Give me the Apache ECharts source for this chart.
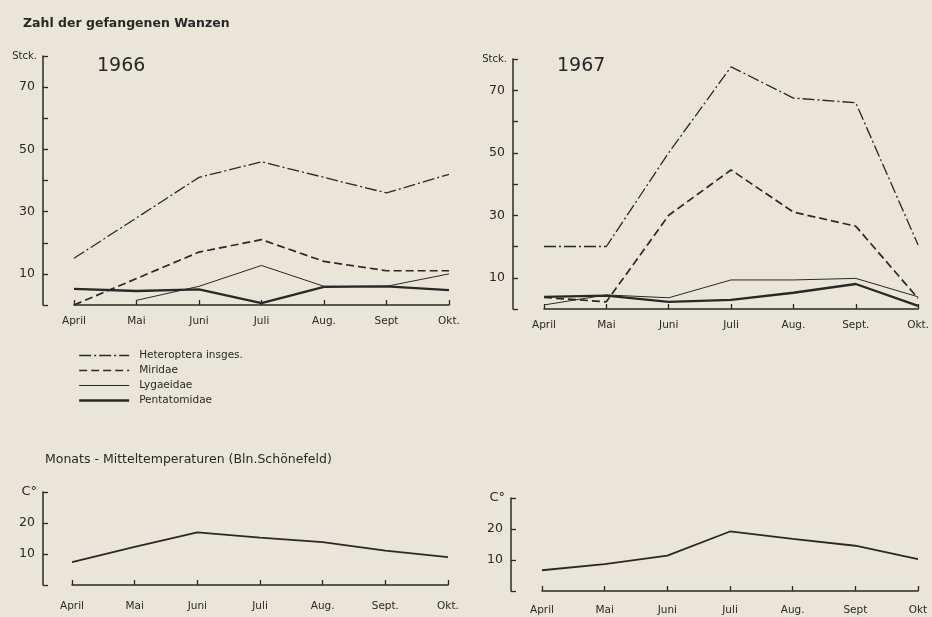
<!DOCTYPE html>
<html><head><meta charset="utf-8">
<script src="https://cdn.jsdelivr.net/npm/echarts@6/dist/echarts.min.js"></script>
<style>html,body{margin:0;padding:0;background:#e9e5d8;}#c{width:932px;height:617px;}</style>
</head><body><div id="c"></div>
<script>
// ---- data ----
const months1966 = ['April','Mai','Juni','Juli','Aug.','Sept','Okt.'];
const months1967 = ['April','Mai','Juni','Juli','Aug.','Sept.','Okt.'];
const monthsT1966 = ['April','Mai','Juni','Juli','Aug.','Sept.','Okt.'];
const monthsT1967 = ['April','Mai','Juni','Juli','Aug.','Sept','Okt'];

const hetero1966 = [15, 28, 41, 46, 41, 36, 42];
const miridae1966 = [0, 8.5, 17, 21, 14, 11, 11];
const lygae1966 = [null, 1.5, 6, 12.7, 6, 6, 10];
const penta1966 = [5.2, 4.5, 5, 0.6, 5.8, 6, 4.8];

const hetero1967 = [20, 20, 50, 77.5, 67.5, 66, 20.5];
const miridae1967 = [3.7, 2.3, 30, 44.5, 31, 26.5, 3.4];
const lygae1967 = [1.3, 4.5, 3.6, 9.3, 9.3, 9.8, 3.9];
const penta1967 = [3.9, 4.3, 2.3, 2.9, 5.2, 8, 1];

const temp1966 = [7.4, 12.3, 17, 15.3, 13.8, 11.1, 9];
const temp1967 = [6.7, 8.7, 11.4, 19.2, 16.8, 14.6, 10.3];

const seriesNames = ['Heteroptera insges.', 'Miridae', 'Lygaeidae', 'Pentatomidae'];
const countTicksLabeled = [10, 30, 50, 70];
const tempTicksLabeled = [10, 20];

// ---- styles ----
const ink = '#2a2826';
const font = 'DejaVu Sans';
const styles = {
  'Heteroptera insges.': {width: 1.3, type: [12, 3, 2, 3]},
  'Miridae': {width: 1.7, type: [8, 4]},
  'Lygaeidae': {width: 1, type: 'solid'},
  'Pentatomidae': {width: 2.3, type: 'solid'}
};

function xAx(grid, data, offset) {
  return {
    type: 'category', gridIndex: grid, data: data, boundaryGap: false, offset: offset || 0,
    axisLine: {lineStyle: {color: ink, width: 1.5}},
    axisTick: {inside: true, length: 5, lineStyle: {color: ink, width: 1.3}},
    axisLabel: {color: ink, fontFamily: font, fontSize: 10.5, margin: 11}
  };
}
function yAx(grid, max, labeled, offset, name) {
  return {
    type: 'value', gridIndex: grid, min: 0, max: max, interval: 10, offset: offset,
    name: name, nameLocation: 'end', nameGap: 0,
    nameTextStyle: {color: ink, fontFamily: font, fontSize: name === 'C°' ? 13 : 10, align: 'right', verticalAlign: 'middle', padding: [0, 6, 0, 0]},
    splitLine: {show: false},
    axisLine: {show: true, lineStyle: {color: ink, width: 1.5}},
    axisTick: {show: true, inside: true, length: 5, lineStyle: {color: ink, width: 1.3}},
    axisLabel: {color: ink, fontFamily: font, fontSize: 12.5, margin: 8,
      formatter: v => labeled.indexOf(v) >= 0 ? String(v) : ''}
  };
}
function lineSeries(name, data, idx) {
  return {
    name: name, type: 'line', xAxisIndex: idx, yAxisIndex: idx, data: data,
    symbol: 'none', connectNulls: false, silent: true,
    lineStyle: Object.assign({color: ink}, styles[name]), itemStyle: {color: ink}
  };
}

const chart = echarts.init(document.getElementById('c'));
chart.setOption({
  backgroundColor: '#e9e5d8',
  animation: false,
  textStyle: {fontFamily: font, color: ink},
  title: [
    {text: 'Zahl der gefangenen Wanzen', left: 18, top: 12, textStyle: {fontSize: 12.5, fontWeight: 'bold', color: ink, fontFamily: font}},
    {text: '1966', left: 92, top: 52, textStyle: {fontSize: 19, fontWeight: 'normal', color: ink, fontFamily: font}},
    {text: '1967', left: 552, top: 52, textStyle: {fontSize: 19, fontWeight: 'normal', color: ink, fontFamily: font}},
    {text: 'Monats - Mitteltemperaturen (Bln.Schönefeld)', left: 40, top: 448, textStyle: {fontSize: 12.5, fontWeight: 'normal', color: ink, fontFamily: font}}
  ],
  legend: {
    data: seriesNames.map(n => ({name: n, lineStyle: {width: styles[n].width, type: styles[n].type, color: ink}})),
    orient: 'vertical', left: 73, top: 345, itemWidth: 50, itemHeight: 12, itemGap: 4,
    selectedMode: false,
    itemStyle: {color: 'transparent', borderWidth: 0, opacity: 0},
    textStyle: {color: ink, fontFamily: font, fontSize: 10.5, padding: [0, 0, 0, 5]}
  },
  grid: [
    {left: 74, top: 56, width: 375, height: 249},
    {left: 544, top: 59, width: 375, height: 250},
    {left: 72, top: 492, width: 376, height: 93},
    {left: 542, top: 498, width: 376, height: 93}
  ],
  xAxis: [xAx(0, months1966), xAx(1, months1967), xAx(2, monthsT1966, 5), xAx(3, monthsT1967, 3)],
  yAxis: [
    yAx(0, 80, countTicksLabeled, 31, 'Stck.'),
    yAx(1, 80, countTicksLabeled, 31, 'Stck.'),
    yAx(2, 30, tempTicksLabeled, 29, 'C°'),
    yAx(3, 30, tempTicksLabeled, 31, 'C°')
  ],
  series: [
    lineSeries('Heteroptera insges.', hetero1966, 0),
    lineSeries('Miridae', miridae1966, 0),
    lineSeries('Lygaeidae', lygae1966, 0),
    lineSeries('Pentatomidae', penta1966, 0),
    lineSeries('Heteroptera insges.', hetero1967, 1),
    lineSeries('Miridae', miridae1967, 1),
    lineSeries('Lygaeidae', lygae1967, 1),
    lineSeries('Pentatomidae', penta1967, 1),
    {name: 'T1966', type: 'line', xAxisIndex: 2, yAxisIndex: 2, data: temp1966, symbol: 'none', silent: true, lineStyle: {color: ink, width: 1.8}},
    {name: 'T1967', type: 'line', xAxisIndex: 3, yAxisIndex: 3, data: temp1967, symbol: 'none', silent: true, lineStyle: {color: ink, width: 1.8}}
  ]
});
</script></body></html>
